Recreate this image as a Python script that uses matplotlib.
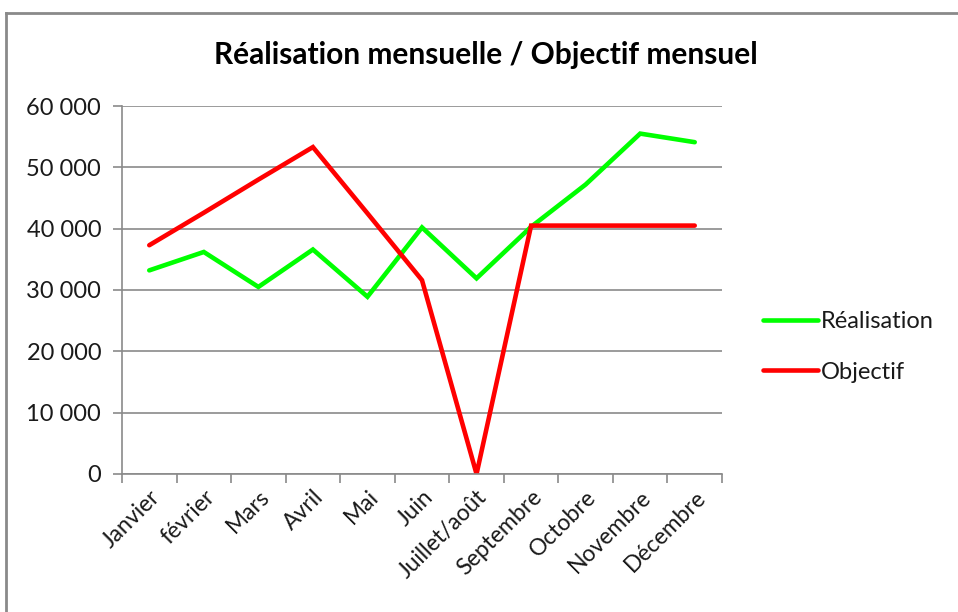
import matplotlib
matplotlib.use("Agg")
import matplotlib.pyplot as plt
from matplotlib.lines import Line2D
from matplotlib.ticker import FuncFormatter, FixedLocator

plt.rcParams['font.family'] = ['Lato', 'DejaVu Sans']

categories = ["Janvier", "février", "Mars", "Avril", "Mai", "Juin",
              "Juillet/août", "Septembre", "Octobre", "Novembre", "Décembre"]
realisation = [33200, 36200, 30500, 36600, 28900, 40200, 31900, 40300, 47200, 55500, 54100]
objectif = [37300, 42600, 48000, 53300, 42500, 31600, 0, 40500, 40500, 40500, 40500]
yticks = [0, 10000, 20000, 30000, 40000, 50000, 60000]

W, H = 958, 612
fig = plt.figure(figsize=(W / 100, H / 100), dpi=100)
ax = fig.add_axes([122 / W, (H - 474) / H, 600 / W, 368 / H])

x = list(range(len(categories)))
l1, = ax.plot(x, realisation, color="#00ff00", lw=3.3, solid_joinstyle="miter", solid_capstyle="round")
l2, = ax.plot(x, objectif, color="#ff0000", lw=3.3, solid_joinstyle="miter", solid_capstyle="round")

ax.set_xlim(-0.5, len(categories) - 0.5)
ax.set_ylim(0, 60000)
ax.set_yticks(yticks)
ax.yaxis.set_major_formatter(FuncFormatter(lambda v, p: f"{int(v):,}".replace(",", " ")))
ax.yaxis.grid(True, color="#8a8a8a", lw=1.2)
ax.set_axisbelow(True)

ax.set_xticks(x)
ax.set_xticklabels(categories, rotation=45, ha="right", rotation_mode="anchor", fontsize=16.5, color="#1a1a1a")
ax.xaxis.set_minor_locator(FixedLocator([i - 0.5 for i in range(len(categories) + 1)]))
ax.tick_params(axis="x", which="major", length=0, pad=9)
ax.tick_params(axis="x", which="minor", length=6.5, color="#8a8a8a", width=1.2)
ax.tick_params(axis="y", length=6.5, color="#8a8a8a", width=1.2, labelsize=17, labelcolor="#1a1a1a", pad=8.5)

for s in ["top", "right"]:
    ax.spines[s].set_visible(False)
for s in ["left", "bottom"]:
    ax.spines[s].set_color("#8a8a8a")
    ax.spines[s].set_linewidth(1.2)

fig.text(486 / W, (H - 55) / H, "Réalisation mensuelle / Objectif mensuel",
         ha="center", va="center", fontsize=21.5, fontweight="bold", color="#000000")

leg = fig.legend([l1, l2], ["Réalisation", "Objectif"], loc="center left",
                 bbox_to_anchor=(742 / W, (H - 347) / H), frameon=False,
                 fontsize=17, handlelength=2.3, handletextpad=0.15, labelspacing=1.25)
for t in leg.get_texts():
    t.set_color("#1a1a1a")

# outer frame
fig.add_artist(Line2D([6 / W, 6 / W], [0, (H - 13) / H], transform=fig.transFigure, color="#8a8a8a", lw=2))
fig.add_artist(Line2D([6 / W, 1], [(H - 13) / H, (H - 13) / H], transform=fig.transFigure, color="#8a8a8a", lw=2))

fig.savefig("out.png", dpi=100)
